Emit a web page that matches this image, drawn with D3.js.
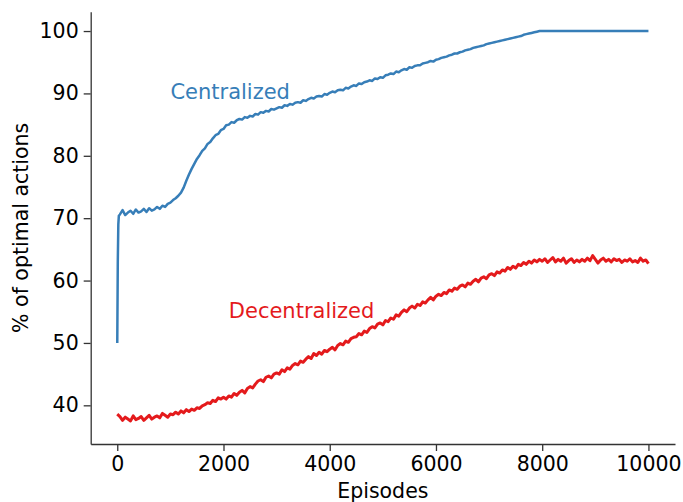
<!DOCTYPE html>
<html><head><meta charset="utf-8">
<script src="https://cdn.jsdelivr.net/npm/d3@7"></script>
<style>body{margin:0;background:#fff;}svg{display:block;font-family:"DejaVu Sans",sans-serif;}</style>
</head><body><svg id="c" width="683" height="502"></svg>
<script>
const xTicks = [0, 2000, 4000, 6000, 8000, 10000];
const yTicks = [40, 50, 60, 70, 80, 90, 100];

const decEpisodes = d3.range(0, 10001, 50);
const decValues = [
38.6,38.2,37.6,38.1,37.8,37.5,38.3,37.7,37.9,38.2,37.6,38.0,38.4,37.8,38.1,38.3,38.0,38.7,38.4,38.1,38.6,
38.5,38.9,38.6,39.1,38.8,39.3,39.0,39.4,39.2,39.6,39.5,39.9,40.1,40.4,40.3,40.8,40.6,41.2,41.0,41.3,
41.0,41.5,41.3,41.9,41.6,42.1,42.4,42.0,42.7,43.0,42.8,43.4,43.9,44.1,43.8,44.5,44.7,44.4,45.0,45.2,
45.0,45.7,45.4,46.0,45.8,46.4,46.7,46.5,47.1,46.9,47.4,47.8,47.5,48.3,48.0,48.5,48.2,48.8,48.6,49.0,
49.3,48.9,49.6,49.9,49.7,50.3,50.1,50.7,50.9,51.0,51.5,51.3,51.9,51.7,52.3,52.6,52.4,53.0,53.2,52.9,
53.6,53.4,54.0,53.8,54.5,54.3,54.9,55.3,55.0,55.6,55.9,55.6,56.2,56.0,56.6,56.4,56.9,57.3,56.9,57.5,
57.8,57.6,58.1,57.9,58.5,58.3,58.8,58.6,59.1,59.3,59.0,59.6,59.4,59.9,60.2,59.8,60.4,60.6,60.3,60.9,
61.1,60.8,61.4,61.2,61.7,61.5,62.1,61.8,62.3,62.0,62.6,62.4,62.9,62.6,63.1,62.8,63.3,63.0,63.4,63.1,
63.5,62.9,63.3,63.7,63.0,63.4,63.1,63.6,62.8,63.2,63.5,62.9,63.3,63.0,63.4,63.1,63.6,63.2,64.0,63.4,
62.8,63.3,63.6,63.1,63.4,63.0,63.5,63.2,63.4,62.9,63.3,63.1,63.5,63.0,63.2,62.9,63.6,63.1,63.3,62.7
];

const cenEpisodes = [0, 10, 20, 30].concat(d3.range(50, 8001, 50), [10000]);
const cenValues = [
50.0,63.0,69.0,70.4,
70.6,71.3,70.5,70.9,71.2,70.7,71.4,70.9,71.1,71.5,71.0,71.6,71.2,71.4,71.8,71.5,72.0,71.8,72.3,72.5,
72.9,73.2,73.6,74.1,74.9,76.0,77.0,77.9,78.7,79.5,80.1,80.8,81.2,81.9,82.2,82.8,83.3,83.5,84.1,84.3,
84.9,85.0,85.4,85.3,85.7,85.9,85.8,86.2,86.1,86.4,86.3,86.7,86.6,87.0,86.9,87.2,87.1,87.5,87.4,87.6,
87.8,87.7,88.1,88.0,88.3,88.2,88.5,88.6,88.5,88.9,88.8,89.1,89.3,89.2,89.5,89.6,89.5,89.9,89.8,90.1,
90.3,90.2,90.5,90.6,90.5,90.9,90.8,91.1,91.3,91.2,91.6,91.5,91.8,91.9,92.1,92.0,92.4,92.3,92.6,92.5,
92.9,93.0,93.2,93.1,93.5,93.4,93.7,93.9,93.8,94.2,94.1,94.4,94.5,94.5,94.8,94.9,95.0,95.2,95.1,95.4,
95.5,95.7,95.8,95.9,96.1,96.2,96.4,96.4,96.6,96.7,96.9,97.0,97.1,97.3,97.4,97.5,97.6,97.7,97.9,98.0,
98.1,98.2,98.3,98.4,98.5,98.6,98.7,98.8,98.9,99.0,99.1,99.2,99.4,99.5,99.6,99.7,99.8,99.9,100.0,100.0,
100.0
];

const seriesNames = ["Centralized", "Decentralized"];
const seriesColors = ["#377eb8", "#e41a1c"];

const svg = d3.select("#c");
const pLeft = 90.7, pRight = 675, pTop = 11.7, pBottom = 444;
const x = d3.scaleLinear().domain([-500, 10500]).range([pLeft, pRight]);
const y = d3.scaleLinear().domain([33.8, 103.1]).range([pBottom, pTop]);

const line = d3.line().x(d => x(d[0])).y(d => y(d[1]));
const decData = decEpisodes.map((e, i) => [e, decValues[i]]);
const cenData = cenEpisodes.map((e, i) => [e, cenValues[i]]);

svg.append("path").datum(cenData).attr("d", line).attr("fill", "none")
  .attr("stroke", seriesColors[0]).attr("stroke-width", 2.5).attr("stroke-linejoin", "round");
svg.append("path").datum(decData).attr("d", line).attr("fill", "none")
  .attr("stroke", seriesColors[1]).attr("stroke-width", 3.0).attr("stroke-linejoin", "round");

const xAxis = svg.append("g").attr("transform", `translate(0,${pBottom})`)
  .call(d3.axisBottom(x).tickValues(xTicks).tickSize(7).tickPadding(5).tickFormat(d3.format("d")).tickSizeOuter(0));
const yAxis = svg.append("g").attr("transform", `translate(${pLeft},0)`)
  .call(d3.axisLeft(y).tickValues(yTicks).tickSize(7).tickPadding(5).tickFormat(d3.format("d")).tickSizeOuter(0));
[xAxis, yAxis].forEach(a => {
  a.select(".domain").attr("stroke", "#333").attr("stroke-width", 1.3);
  a.selectAll(".tick line").attr("stroke", "#333").attr("stroke-width", 1.3);
  a.selectAll(".tick text").attr("fill", "#000").style("font-size", "20.5px").style("font-family", "DejaVu Sans");
});

svg.append("text").attr("x", (pLeft + pRight) / 2).attr("y", 498).attr("text-anchor", "middle")
  .style("font-size", "20.5px").attr("fill", "#000").text("Episodes");
svg.append("text").attr("transform", `translate(28,${(pTop + pBottom) / 2}) rotate(-90)`).attr("text-anchor", "middle")
  .style("font-size", "20.5px").attr("fill", "#000").text("% of optimal actions");

svg.append("text").attr("x", x(1000)).attr("y", y(89.1)).style("font-size", "21px")
  .attr("fill", seriesColors[0]).text(seriesNames[0]);
svg.append("text").attr("x", x(2100)).attr("y", y(54)).style("font-size", "21px")
  .attr("fill", seriesColors[1]).text(seriesNames[1]);
</script></body></html>
